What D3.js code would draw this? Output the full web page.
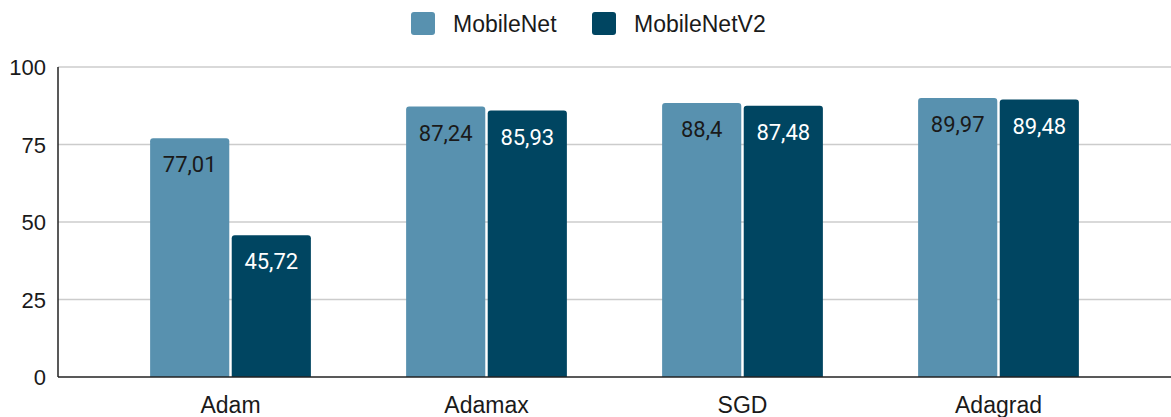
<!DOCTYPE html>
<html>
<head>
<meta charset="utf-8">
<script src="https://cdn.jsdelivr.net/npm/d3@7"></script>
<style>
  body { margin: 0; background: #fff; }
  text { font-family: "Liberation Sans", Arial, sans-serif; }
  text.val { font-family: Roboto, "Liberation Sans", sans-serif; }
</style>
</head>
<body>
<div id="chart"></div>
<script>
var optimizers = ["Adam", "Adamax", "SGD", "Adagrad"];
var seriesNames = ["MobileNet", "MobileNetV2"];
var mobileNet = [77.01, 87.24, 88.4, 89.97];
var mobileNetV2 = [45.72, 85.93, 87.48, 89.48];
var yTicks = [0, 25, 50, 75, 100];

var colors = ["#5891af", "#004561"];
var labelColors = ["#1a1a1a", "#ffffff"];

var w = 1171, h = 417;
var plotLeft = 58, plotTop = 67, plotBottom = 377;

var svg = d3.select("#chart").append("svg")
  .attr("width", w)
  .attr("height", h);

var y = d3.scaleLinear().domain([0, 100]).range([plotBottom, plotTop]);

// categories
var x = d3.scaleBand().domain(optimizers).range([102.5, 1126.5]).paddingInner(0.372).paddingOuter(0.186);
var x1 = d3.scaleBand().domain(seriesNames).range([0, x.bandwidth()]).paddingInner(0.03);

// gridlines
svg.append("g").selectAll("line")
  .data(yTicks.filter(function(d){ return d > 0; }))
  .enter().append("line")
  .attr("x1", plotLeft).attr("x2", w)
  .attr("y1", function(d){ return y(d); })
  .attr("y2", function(d){ return y(d); })
  .attr("stroke", "#cccccc")
  .attr("stroke-width", 1.5);

// y axis labels
svg.append("g").selectAll("text")
  .data(yTicks)
  .enter().append("text")
  .attr("x", 46)
  .attr("y", function(d){ return y(d) + 8; })
  .attr("text-anchor", "end")
  .attr("font-size", 22)
  .attr("fill", "#1a1a1a")
  .text(function(d){ return d; });

var rows = [];
optimizers.forEach(function(o, i){
  rows.push({ cat: o, s: 0, v: mobileNet[i] });
  rows.push({ cat: o, s: 1, v: mobileNetV2[i] });
});

function topRounded(x0, y0, bw, bh, r) {
  return "M" + x0 + "," + (y0 + bh) +
    "V" + (y0 + r) +
    "Q" + x0 + "," + y0 + " " + (x0 + r) + "," + y0 +
    "H" + (x0 + bw - r) +
    "Q" + (x0 + bw) + "," + y0 + " " + (x0 + bw) + "," + (y0 + r) +
    "V" + (y0 + bh) + "Z";
}

var bars = svg.append("g").selectAll("g")
  .data(rows)
  .enter().append("g");

bars.append("path")
  .attr("d", function(d){
    var bx = x(d.cat) + x1(seriesNames[d.s]);
    return topRounded(bx, y(d.v), x1.bandwidth(), plotBottom - y(d.v), 3);
  })
  .attr("fill", function(d){ return colors[d.s]; });

bars.append("text")
  .attr("class", "val")
  .attr("x", function(d){ return x(d.cat) + x1(seriesNames[d.s]) + x1.bandwidth() / 2; })
  .attr("y", function(d){ return y(d.v) + 34; })
  .attr("text-anchor", "middle")
  .attr("font-size", 22)
  .attr("fill", function(d){ return labelColors[d.s]; })
  .text(function(d){ return String(d.v).replace(".", ","); });

// axes lines
svg.append("line")
  .attr("x1", plotLeft).attr("x2", plotLeft)
  .attr("y1", plotTop).attr("y2", plotBottom)
  .attr("stroke", "#222").attr("stroke-width", 1.5);
svg.append("line")
  .attr("x1", plotLeft).attr("x2", w)
  .attr("y1", plotBottom).attr("y2", plotBottom)
  .attr("stroke", "#222").attr("stroke-width", 1.5);

// x labels
svg.append("g").selectAll("text")
  .data(optimizers)
  .enter().append("text")
  .attr("x", function(d){ return x(d) + x.bandwidth() / 2; })
  .attr("y", 413)
  .attr("text-anchor", "middle")
  .attr("font-size", 23)
  .attr("fill", "#1a1a1a")
  .text(function(d){ return d; });

// legend
var legendX = [411, 592];
var leg = svg.append("g").selectAll("g")
  .data(seriesNames)
  .enter().append("g")
  .attr("transform", function(d, i){ return "translate(" + legendX[i] + ",12)"; });
leg.append("rect")
  .attr("width", 24).attr("height", 23).attr("rx", 3)
  .attr("fill", function(d, i){ return colors[i]; });
leg.append("text")
  .attr("x", 42).attr("y", 20)
  .attr("font-size", 23)
  .attr("fill", "#1a1a1a")
  .text(function(d){ return d; });
</script>
</body>
</html>
